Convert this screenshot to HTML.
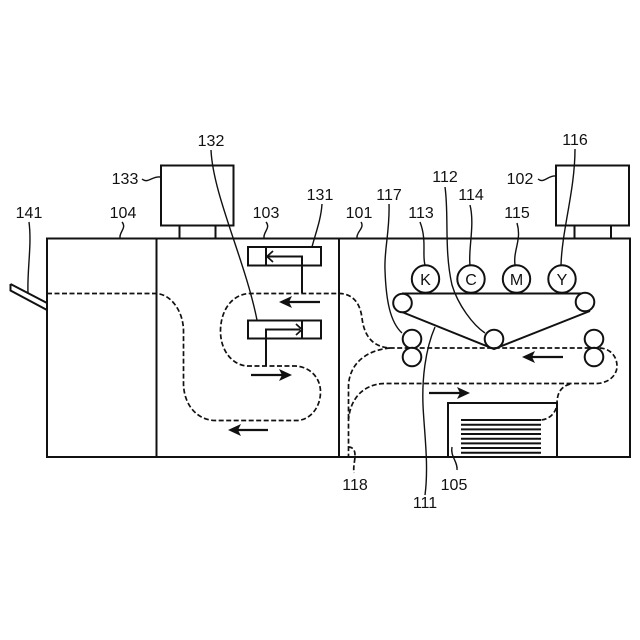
<!DOCTYPE html>
<html><head><meta charset="utf-8"><style>html,body{margin:0;padding:0;background:#fff}svg{display:block}text{font-family:"Liberation Sans",sans-serif;font-size:16px;fill:#111;text-anchor:middle}</style></head><body>
<svg width="640" height="640" viewBox="0 0 640 640" xmlns="http://www.w3.org/2000/svg">
<g fill="none" stroke="#111" stroke-width="2">
<rect x="47" y="238.500" width="583" height="218.500"/>
<path d="M156.500 238V457M339 238V457"/>
<rect x="161" y="165.500" width="72.500" height="60"/>
<rect x="556" y="165.500" width="73" height="60"/>
<path d="M179.500 225V238M215.500 225V238M574.500 225V238M611 225V238"/>
<path d="M10.500 284L47 303M10.500 284V290.500L47 310"/>
<rect x="248" y="247" width="73" height="18.500"/>
<path d="M266 247V265"/>
<rect x="248" y="320.500" width="73" height="18"/>
<path d="M302 320V339"/>
<path d="M302 293V256.500H268M266 366V329.500H300"/>
<rect x="448" y="403" width="109" height="54"/>
<path d="M461 420H541M461 424.700H541M461 429.400H541M461 434H541M461 438.700H541M461 443.400H541M461 448H541M461 452.700H541"/>
<path d="M402 293.500H586M402 312L494 349L590 311" />
</g>
<g fill="#fff" stroke="#111" stroke-width="2">
<circle cx="402.500" cy="303" r="9.300"/><circle cx="585" cy="302" r="9.300"/><circle cx="494" cy="339" r="9.300"/>
<circle cx="412" cy="339" r="9.300"/><circle cx="412" cy="357" r="9.300"/><circle cx="594" cy="339" r="9.300"/><circle cx="594" cy="357" r="9.300"/>
<circle cx="425.500" cy="279" r="13.700"/><circle cx="471" cy="279" r="13.700"/><circle cx="516.500" cy="279" r="13.700"/><circle cx="562" cy="279" r="13.700"/>
</g>
<g fill="none" stroke="#111" stroke-width="1.700" stroke-dasharray="5 2.500">
<path d="M47 293.500H157C172 295 183 312 183.500 330V384C184 405 197 420 215 420.500H297C310 420 320 408 320.500 393C321 378 310 366.500 295 366H247C232 365 220 350 220.500 330C221 310 232 294 250 293.500H340C352 294 360 302 362 318C364 335 372 347 390 348H600C612 349 617 358 617 366C617 376 608 383 597 383.500H385C362 384 350 400 348.500 420V457"/>
<path d="M390 348C368 350 350 362 348.500 385V420"/>
<path d="M570 384C560 387 557 394 557 404C556 414 548 420 540 420"/>
<path d="M348 447C353 447 355 450 355 455C355 462 353 466 354 473"/>
</g>
<g fill="none" stroke="#111" stroke-width="1.400">
<path d="M29 222C32 245 27 270 28 293"/>
<path d="M122 222C127 228 119 232 120 238"/>
<path d="M142 179C148 184 152 176 160 177"/>
<path d="M538 179C544 184 548 175 556 176"/>
<path d="M211 150C213 195 245 260 257 320"/>
<path d="M266 222C271 228 263 232 264 238"/>
<path d="M322 204C321 220 315 235 312 247"/>
<path d="M361 222C365 228 356 232 357 238"/>
<path d="M389 204C390 230 384 250 385 270C386 300 390 322 402 333"/>
<path d="M445 187C449 215 444 250 452 285C458 305 473 325 485 333"/>
<path d="M420 222C427 240 422 255 425 265"/>
<path d="M470 205C475 225 468 250 470 265"/>
<path d="M517 223C522 240 513 250 515 265"/>
<path d="M575 149C575 190 562 230 561 265"/>
<path d="M435 327C425 350 422 380 423 405C424 430 429 465 425 495"/>
<path d="M452 447C450 456 458 462 457 470"/>
</g>
<g fill="none" stroke="#111" stroke-width="2.200">
<path d="M320 302H285M251 375H286M268 430H234M563 357H528M429 393H464"/>
</g>
<g fill="#111">
<path d="M279 302L292 296L289 302L292 308Z"/>
<path d="M292 375L279 369L282 375L279 381Z"/>
<path d="M228 430L241 424L238 430L241 436Z"/>
<path d="M522 357L535 351L532 357L535 363Z"/>
<path d="M470 393L457 387L460 393L457 399Z"/>
</g>
<g fill="none" stroke="#111" stroke-width="1.700">
<path d="M273 251L267 256.500L273 262"/>
<path d="M296 324L302 329.500L296 335"/>
</g>
<text x="125" y="184">133</text>
<text x="29" y="218">141</text>
<text x="123" y="218">104</text>
<text x="211" y="146">132</text>
<text x="266" y="218">103</text>
<text x="320" y="200">131</text>
<text x="359" y="218">101</text>
<text x="389" y="200">117</text>
<text x="445" y="182">112</text>
<text x="471" y="200">114</text>
<text x="421" y="218">113</text>
<text x="517" y="218">115</text>
<text x="575" y="145">116</text>
<text x="520" y="184">102</text>
<text x="355" y="490">118</text>
<text x="454" y="490">105</text>
<text x="425" y="508">111</text>
<text x="425.500" y="285">K</text>
<text x="471" y="285">C</text>
<text x="516.500" y="285">M</text>
<text x="562" y="285">Y</text>
</svg>
</body></html>
